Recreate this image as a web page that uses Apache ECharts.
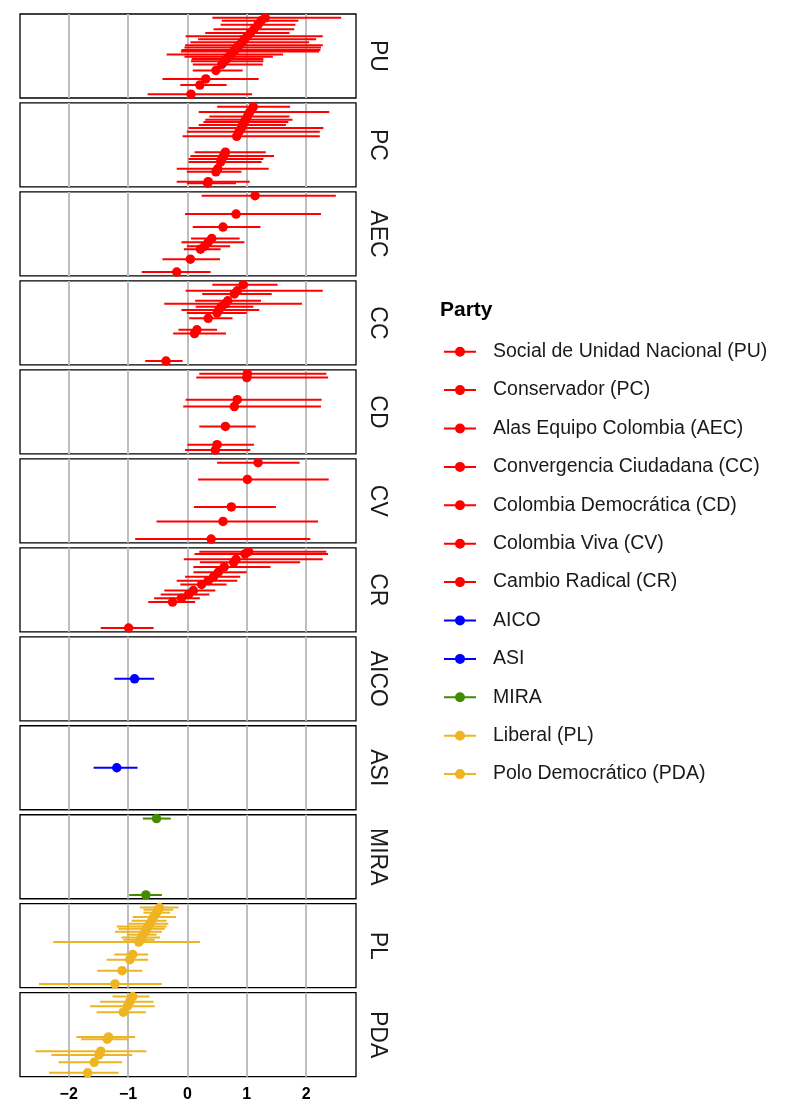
<!DOCTYPE html>
<html>
<head>
<meta charset="utf-8">
<script src="https://cdn.jsdelivr.net/npm/echarts@6.0.0/dist/echarts.min.js"></script>
<style>
  html, body { margin: 0; padding: 0; background: #fff; }
  #chart { width: 800px; height: 1120px; }
</style>
</head>
<body>
<div id="chart"></div>
<script>
// x axis ticks
const xTicks = [-2, -1, 0, 1, 2];

const panels = ['PU', 'PC', 'AEC', 'CC', 'CD', 'CV', 'CR', 'AICO', 'ASI', 'MIRA', 'PL', 'PDA'];
const partyNames = [
  'Social de Unidad Nacional (PU)', 'Conservador (PC)', 'Alas Equipo Colombia (AEC)',
  'Convergencia Ciudadana (CC)', 'Colombia Democrática (CD)', 'Colombia Viva (CV)',
  'Cambio Radical (CR)', 'AICO', 'ASI', 'MIRA', 'Liberal (PL)', 'Polo Democrático (PDA)'
];

// rows: [rank in panel, estimate, lower, upper]
const PU = [
  [100, 1.31, 0.42, 2.59], [96, 1.24, 0.58, 1.87], [91, 1.19, 0.56, 1.82], [85, 1.12, 0.44, 1.80],
  [80, 1.06, 0.30, 1.72], [76, 1.01, -0.03, 2.28], [72, 0.96, 0.18, 2.17], [68, 0.92, 0.05, 2.05],
  [64, 0.87, -0.04, 2.28], [61, 0.83, -0.05, 2.25], [58, 0.80, -0.10, 2.24], [56, 0.78, -0.11, 2.22],
  [52, 0.73, -0.35, 1.61], [49, 0.70, -0.05, 1.44], [46, 0.66, 0.07, 1.28], [43, 0.62, 0.06, 1.28],
  [39, 0.58, 0.09, 1.27], [31, 0.48, 0.09, 0.93], [20, 0.31, -0.42, 1.20], [12, 0.21, -0.12, 0.66],
  [0, 0.06, -0.67, 1.09]
];
const PC = [
  [101, 1.11, 0.50, 1.73], [94, 1.05, 0.19, 2.39], [88, 1.01, 0.37, 1.72], [84, 0.98, 0.30, 1.77],
  [81, 0.96, 0.27, 1.70], [77, 0.93, 0.19, 1.66], [73, 0.91, 0.02, 2.29], [68, 0.87, -0.01, 2.23],
  [62, 0.83, -0.08, 2.23], [41, 0.64, 0.12, 1.32], [36, 0.61, 0.05, 1.46], [32, 0.58, 0.02, 1.28],
  [28, 0.56, 0.02, 1.25], [19, 0.51, -0.18, 1.37], [15, 0.48, -0.01, 0.91], [2, 0.35, -0.18, 1.05],
  [0, 0.34, -0.01, 0.82]
];
const AEC = [
  [100, 1.14, 0.24, 2.50], [76, 0.82, -0.04, 2.25], [59, 0.60, 0.09, 1.23], [44, 0.41, 0.06, 0.88],
  [39, 0.35, -0.10, 0.96], [34, 0.29, -0.01, 0.72], [30, 0.22, -0.06, 0.56], [17, 0.05, -0.42, 0.55],
  [0, -0.18, -0.77, 0.39]
];
const CC = [
  [100, 0.94, 0.42, 1.52], [92, 0.84, -0.03, 2.28], [88, 0.79, 0.25, 1.42], [79, 0.68, 0.13, 1.24],
  [75, 0.64, -0.39, 1.93], [71, 0.57, 0.14, 1.11], [67, 0.53, -0.10, 1.21], [63, 0.50, -0.01, 1.00],
  [56, 0.35, 0.03, 0.76], [41, 0.16, -0.15, 0.50], [36, 0.12, -0.24, 0.65], [0, -0.36, -0.71, -0.08]
];
const CD = [
  [100, 1.01, 0.20, 2.34], [95, 1.00, 0.15, 2.37], [66, 0.84, -0.03, 2.26], [57, 0.79, -0.07, 2.25],
  [31, 0.64, 0.20, 1.15], [7, 0.50, 0.00, 1.12], [0, 0.47, -0.04, 1.06]
];
const CV = [
  [100, 1.19, 0.50, 1.89], [78, 1.01, 0.18, 2.38], [42, 0.74, 0.11, 1.49], [23, 0.60, -0.52, 2.20],
  [0, 0.40, -0.88, 2.07]
];
const CR = [
  [100, 1.03, 0.20, 2.34], [97, 0.97, 0.12, 2.37], [90, 0.82, -0.06, 2.28], [86, 0.78, 0.21, 1.90],
  [80, 0.62, 0.10, 1.40], [73, 0.52, 0.10, 1.00], [67, 0.44, -0.04, 0.89], [62, 0.35, -0.18, 0.84],
  [57, 0.24, -0.12, 0.66], [49, 0.10, -0.39, 0.47], [44, 0.02, -0.45, 0.37], [39, -0.10, -0.56, 0.21],
  [34, -0.25, -0.66, 0.13], [0, -0.99, -1.46, -0.57]
];
const AICO = [[50, -0.89, -1.23, -0.56]];
const ASI = [[50, -1.19, -1.58, -0.84]];
const MIRA = [[100, -0.52, -0.75, -0.28], [0, -0.70, -0.98, -0.43]];
const PL = [
  [103, -0.47, -0.80, -0.15], [100, -0.49, -0.74, -0.24], [96, -0.52, -0.74, -0.29], [90, -0.57, -0.92, -0.19],
  [85, -0.60, -0.94, -0.35], [81, -0.63, -0.99, -0.32], [77, -0.66, -1.19, -0.35], [74, -0.69, -1.16, -0.38],
  [70, -0.71, -1.22, -0.43], [66, -0.75, -1.02, -0.52], [62, -0.77, -1.11, -0.46], [59, -0.79, -1.08, -0.55],
  [56, -0.82, -2.26, 0.21], [39, -0.92, -1.23, -0.66], [32, -0.97, -1.36, -0.66], [17, -1.10, -1.52, -0.76],
  [-1, -1.22, -2.50, -0.43]
];
const PDA = [
  [101, -0.92, -1.26, -0.64], [94, -0.97, -1.47, -0.57], [88, -1.01, -1.64, -0.55], [80, -1.08, -1.53, -0.70],
  [47, -1.33, -1.87, -0.88], [44, -1.35, -1.79, -0.99], [28, -1.46, -2.56, -0.69], [23, -1.49, -2.29, -0.93],
  [13, -1.57, -2.17, -1.10], [-1, -1.68, -2.33, -1.16]
];

const partyData = [PU, PC, AEC, CC, CD, CV, CR, AICO, ASI, MIRA, PL, PDA];

const RED = '#FF0000', BLUE = '#0000FF', GREEN = '#458B00', GOLD = '#EEB422';
const partyColors = [RED, RED, RED, RED, RED, RED, RED, BLUE, BLUE, GREEN, GOLD, GOLD];

const FONT = 'Liberation Sans, Arial, Helvetica, sans-serif';
const ICON = 'path://M0,4 L32,4 L32,6 L0,6 Z M11,5 A5,5 0 1 1 21,5 A5,5 0 1 1 11,5 Z';

const grids = [], xAxes = [], yAxes = [], series = [];
const last = panels.length - 1;

panels.forEach((p, i) => {
  const color = partyColors[i];
  grids.push({
    left: 20, width: 336, top: 14 + i * 88.97, height: 84,
    show: true, borderColor: '#000', borderWidth: 1.3, backgroundColor: '#fff'
  });
  xAxes.push({
    type: 'value', gridIndex: i, min: -2.82, max: 2.84,
    axisLine: { show: false },
    axisTick: {
      show: i === last, length: 4, customValues: xTicks,
      lineStyle: { color: '#BEBEBE', width: 2 }
    },
    axisLabel: {
      show: i === last, customValues: xTicks, margin: 10,
      fontFamily: FONT, fontSize: 16, fontWeight: 'bold', color: '#000',
      formatter: v => Number.isInteger(v) ? (v < 0 ? '\u2212' + Math.abs(v) : String(v)) : ''
    },
    splitLine: {
      show: true,
      lineStyle: { color: '#BEBEBE', width: 2 }
    }
  });
  yAxes.push({
    type: 'value', gridIndex: i, position: 'right',
    min: v => { const r = v.max - v.min; return r ? v.min - r * 0.05 : v.min - 1; },
    max: v => { const r = v.max - v.min; return r ? v.max + r * 0.05 : v.max + 1; },
    axisLine: { show: false }, axisTick: { show: false }, axisLabel: { show: false },
    splitLine: { show: false },
    name: p, nameLocation: 'middle', nameRotate: -90, nameGap: 10,
    nameTextStyle: { fontFamily: FONT, fontSize: 23, color: '#1A1A1A' }
  });
  series.push({
    type: 'custom', name: partyNames[i], xAxisIndex: i, yAxisIndex: i,
    data: partyData[i], encode: { x: [1, 2, 3], y: 0 },
    itemStyle: { color: color },
    renderItem: (params, api) => {
      const y = api.value(0);
      const a = api.coord([api.value(2), y]);
      const b = api.coord([api.value(3), y]);
      return {
        type: 'line',
        shape: { x1: a[0], y1: a[1], x2: b[0], y2: b[1] },
        style: { stroke: color, lineWidth: 2 }
      };
    }
  });
  series.push({
    type: 'scatter', name: partyNames[i], xAxisIndex: i, yAxisIndex: i,
    data: partyData[i], encode: { x: 1, y: 0 },
    symbolSize: 9.5, clip: false,
    itemStyle: { color: color, opacity: 1 }
  });
});

const chart = echarts.init(document.getElementById('chart'), null, { renderer: 'canvas' });
chart.setOption({
  animation: false,
  backgroundColor: '#fff',
  title: {
    text: 'Party', left: 440, top: 300, padding: 0,
    textStyle: { fontFamily: FONT, fontSize: 21, fontWeight: 'bold', color: '#000' }
  },
  legend: {
    orient: 'vertical', left: 444, top: 341.7, padding: 0,
    itemWidth: 32, itemHeight: 10, itemGap: 18.4,
    selectedMode: false,
    data: partyNames.map(n => ({ name: n, icon: ICON })),
    textStyle: { fontFamily: FONT, fontSize: 19.5, lineHeight: 20, color: '#1A1A1A', padding: [0, 0, 0, 12] }
  },
  grid: grids,
  xAxis: xAxes,
  yAxis: yAxes,
  series: series
});
</script>
</body>
</html>
